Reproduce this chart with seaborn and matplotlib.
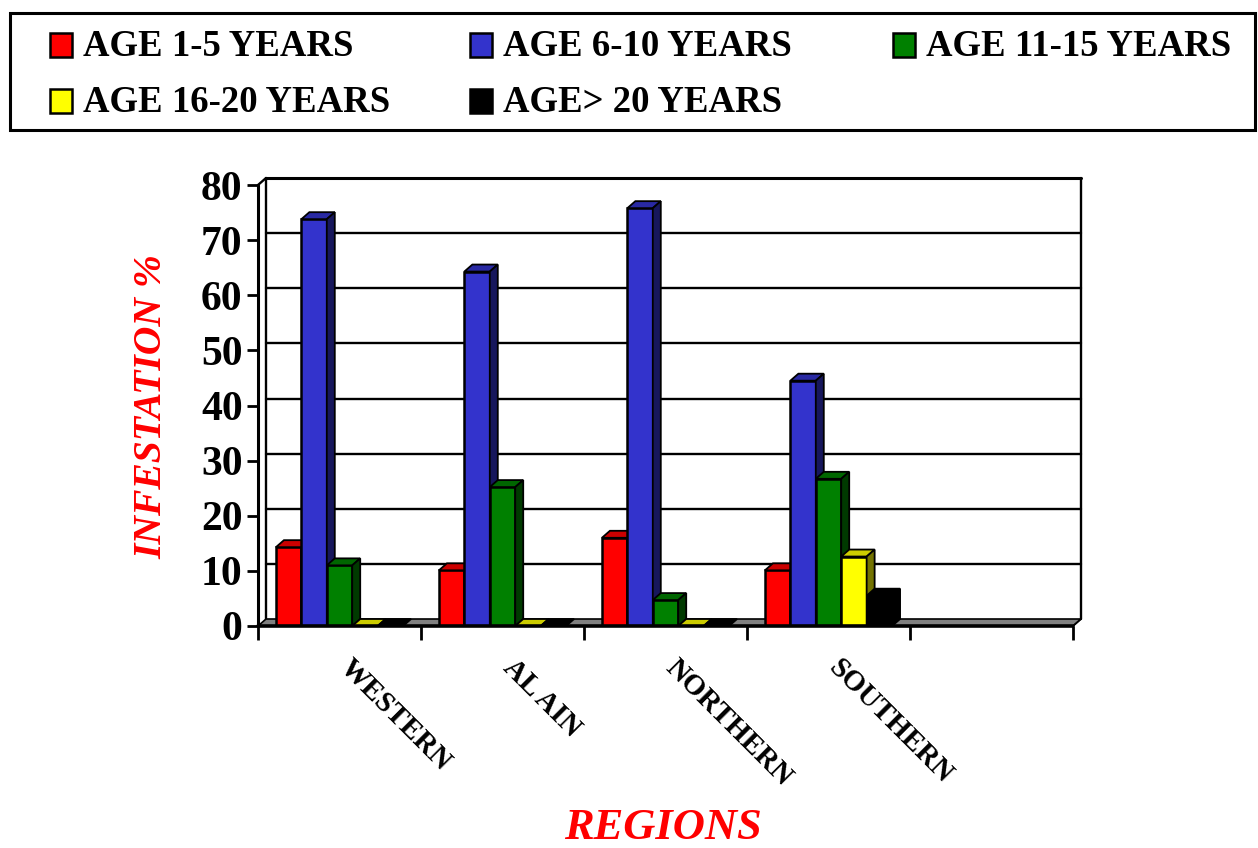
import numpy as np
import pandas as pd
import matplotlib
matplotlib.use("Agg")
import matplotlib.pyplot as plt
from matplotlib.patches import Polygon, Rectangle
from matplotlib.colors import to_rgb
from matplotlib.transforms import ScaledTranslation
import seaborn as sns

# ---- data ----
regions = ["WESTERN", "AL AIN", "NORTHERN", "SOUTHERN"]
age_groups = ["AGE 1-5 YEARS", "AGE 6-10 YEARS", "AGE 11-15 YEARS",
              "AGE 16-20 YEARS", "AGE> 20 YEARS"]
age_1_5 = [14.3, 10.1, 16.0, 10.1]
age_6_10 = [73.8, 64.3, 75.8, 44.5]
age_11_15 = [11.0, 25.2, 4.7, 26.7]
age_16_20 = [0.0, 0.0, 0.0, 12.6]
age_over_20 = [0.0, 0.0, 0.0, 5.5]
yticks = [0, 10, 20, 30, 40, 50, 60, 70, 80]

colors = ["#ff0000", "#3333cc", "#008000", "#ffff00", "#000000"]

series = [age_1_5, age_6_10, age_11_15, age_16_20, age_over_20]
rows = []
for g, vals in zip(age_groups, series):
    for r, v in zip(regions, vals):
        rows.append({"region": r, "age": g, "value": v})
df = pd.DataFrame(rows)

sns.set_style("white")
plt.rcParams["font.family"] = ["Liberation Serif", "DejaVu Serif"]
plt.rcParams["font.weight"] = "bold"
for k in ["text.color", "axes.labelcolor", "xtick.color", "ytick.color"]:
    plt.rcParams[k] = "black"

W, H = 1258, 848
fig = plt.figure(figsize=(W / 100, H / 100), dpi=100)
ax = fig.add_axes([258 / W, 1 - 626 / H, (1073 - 258) / W, (626 - 185) / H])

order = regions + [" "]
sns.barplot(data=df, x="region", y="value", hue="age", order=order,
            hue_order=age_groups, palette=colors, saturation=1, width=0.78,
            edgecolor="black", linewidth=1.8, legend=False, ax=ax,
            errorbar=None)

ax.set_xlim(-0.5, 4.5)
ax.set_ylim(0, 80)
for s in ax.spines.values():
    s.set_visible(False)

# 3D depth in data units
px_x = 815 / 5.0
px_y = 441 / 80.0
dx = 8 / px_x
dy = 7 / px_y

# back wall + floor + left wall
x0, x1 = -0.5, 4.5
ax.add_patch(Polygon([[x0, 0], [x1, 0], [x1 + dx, dy], [x0 + dx, dy]],
                     closed=True, facecolor="#808080", edgecolor="black",
                     linewidth=1.2, zorder=1, clip_on=False))
for yv in yticks[1:]:
    ax.plot([x0 + dx, x1 + dx], [yv + dy, yv + dy], color="black",
            lw=2.2 if yv == 80 else 1.7, zorder=0.5, clip_on=False)
ax.plot([x1 + dx, x1 + dx], [dy, 80 + dy], color="black", lw=1.7,
        zorder=0.5, clip_on=False)
ax.plot([x0 + dx, x0 + dx], [dy, 80 + dy], color="black", lw=1.7,
        zorder=0.6, clip_on=False)
ax.plot([x0, x0], [0, 80], color="black", lw=2.2, zorder=0.6, clip_on=False)
ax.plot([x0, x0 + dx], [80, 80 + dy], color="black", lw=1.7,
        zorder=0.6, clip_on=False)
ax.plot([x1, x1 + dx], [0, dy], color="black", lw=1.2, zorder=1.1,
        clip_on=False)
ax.plot([x0, x1], [0, 0], color="black", lw=2.6, zorder=50, clip_on=False)

# 3D faces for bars
bars = [p for p in ax.patches if isinstance(p, Rectangle)
        and 0 < p.get_width() < 1]
bars.sort(key=lambda p: p.get_x())
for k, p in enumerate(bars):
    z = 3 + k * 0.05
    p.set_zorder(z)
    bx0 = p.get_x()
    bx1 = bx0 + p.get_width()
    h = p.get_height()
    c = np.array(to_rgb(p.get_facecolor()))
    side = c * 0.45
    top = c * 0.8
    ax.add_patch(Polygon([[bx0, h], [bx1, h], [bx1 + dx, h + dy], [bx0 + dx, h + dy]],
                         closed=True, facecolor=top, edgecolor="black",
                         linewidth=1.3, zorder=z, clip_on=False))
    if h > 0:
        ax.add_patch(Polygon([[bx1, 0], [bx1, h], [bx1 + dx, h + dy], [bx1 + dx, dy]],
                             closed=True, facecolor=side, edgecolor="black",
                             linewidth=1.3, zorder=z, clip_on=False))

# ticks
ax.set_yticks(yticks)
ax.set_yticklabels([str(v) for v in yticks], fontsize=30, fontweight="bold")
ax.tick_params(axis="y", direction="out", length=8, width=2, pad=3, left=True)

ax.set_xticks(range(5))
ax.set_xticklabels(regions + [""], fontsize=21, fontweight="bold",
                   rotation=-45, ha="left", va="top", rotation_mode="anchor")
ax.tick_params(axis="x", which="major", length=0, pad=20)
off = ScaledTranslation(14 / 100, 0, fig.dpi_scale_trans)
for lab in ax.get_xticklabels():
    lab.set_transform(lab.get_transform() + off)
ax.set_xticks(np.arange(-0.5, 5.0, 1.0), minor=True)
ax.tick_params(axis="x", which="minor", direction="out", length=10, width=2,
               bottom=True)
ax.set_xlabel("")
ax.set_ylabel("")

fig.text(152 / W, 1 - 407 / H, "INFESTATION %", color="#ff0000", fontsize=28.5,
         fontweight="bold", fontstyle="italic", rotation=90,
         ha="center", va="center")
fig.text(663 / W, 1 - 828 / H, "REGIONS", color="#ff0000", fontsize=32,
         fontweight="bold", fontstyle="italic", ha="center", va="center")

# legend (manual layout to match the reference's fixed columns)
fig.add_artist(Rectangle((10 / W, 1 - 130 / H), 1245 / W, 117 / H,
                         transform=fig.transFigure, facecolor="white",
                         edgecolor="black", linewidth=2.2, zorder=10))
leg_pos = [(50, 45), (470, 45), (893, 45), (50, 101), (470, 101)]
for (lx, ly), c, lab in zip(leg_pos, colors, age_groups):
    fig.add_artist(Rectangle((lx / W, 1 - (ly + 12) / H), 22 / W, 24 / H,
                             transform=fig.transFigure, facecolor=c,
                             edgecolor="black", linewidth=1.8, zorder=11))
    fig.text((lx + 33) / W, 1 - (ly + 1) / H, lab, fontsize=26.5,
             fontweight="bold", ha="left", va="center", zorder=11)

fig.savefig("out.png", dpi=100)
